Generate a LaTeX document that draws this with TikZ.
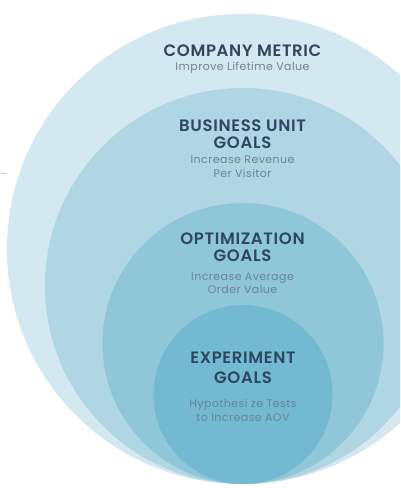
\documentclass[tikz,border=0pt]{standalone}
\usepackage{fontspec}
\setmainfont{Poppins}
\newfontfamily\subfont[LetterSpace=4]{Poppins}
\newfontfamily\ttlfont[LetterSpace=4]{Poppins SemiBold}
\definecolor{ringA}{HTML}{D3E8F0}
\definecolor{ringB}{HTML}{B0D5E3}
\definecolor{ringC}{HTML}{8FC6D8}
\definecolor{ringD}{HTML}{73B9D0}
\definecolor{titlecol}{HTML}{2E4660}
\definecolor{subcol}{HTML}{6B8597}
\tikzset{
  ring/.style={draw=none},
  ttl/.style={anchor=base, inner sep=0pt, text=titlecol, font=\fontsize{16.5}{18}\ttlfont},
  sub/.style={anchor=base, inner sep=0pt, text=subcol, font=\fontsize{11}{13}\subfont},
}
\begin{document}
\begin{tikzpicture}[x=1pt,y=-1pt]
\useasboundingbox (0,0) rectangle (400,488);
\clip (0,0) rectangle (400,488);
\fill[white] (0,0) rectangle (400,488);
\fill[ringA, ring] (242,249) circle[radius=235pt];
\fill[ringB, ring] (243,286) circle[radius=198pt];
\fill[ringC, ring] (243,343.5) circle[radius=140.5pt];
\fill[ringD, ring] (243,394.5) circle[radius=89.5pt];
\coordinate (m1) at (0,173);
\coordinate (m2) at (6,173.5);
\draw[gray!70, line width=0.6pt] (m1) -- (m2);
% company metric
\node[ttl] (cm1) at (242.5,56) {COMPANY METRIC};
\node[sub] (cm2) at (242.5,70) {Improve Lifetime Value};
% business unit
\node[ttl] (bu1) at (242.5,131) {BUSINESS UNIT};
\node[ttl] (bu2) at (242.5,148.5) {GOALS};
\node[sub] (bu3) at (242.5,163) {Increase Revenue};
\node[sub] (bu4) at (242.5,177) {Per Visitor};
% optimization
\node[ttl] (op1) at (242.5,244) {OPTIMIZATION};
\node[ttl] (op2) at (242.5,261) {GOALS};
\node[sub] (op3) at (242.5,280) {Increase Average};
\node[sub] (op4) at (242.5,293) {Order Value};
% experiment
\node[ttl] (ex1) at (243,363) {EXPERIMENT};
\node[ttl] (ex2) at (243,383) {GOALS};
\node[sub] (ex3) at (243,407) {Hypothesi ze Tests};
\node[sub] (ex4) at (243,421.5) {to Increase AOV};
\end{tikzpicture}
\end{document}
